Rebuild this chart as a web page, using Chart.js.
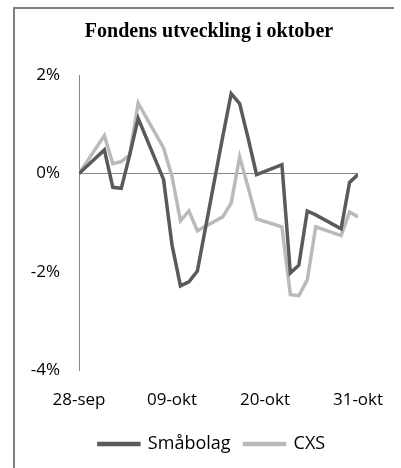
<!DOCTYPE html>
<html>
<head>
<meta charset="utf-8">
<script src="https://cdn.jsdelivr.net/npm/chart.js@4"></script>
<style>
    body { margin: 0; background: #fff; }
    #frame { position: absolute; left: 13px; top: 7px; width: 379px; height: 470px;
             border-left: 2px solid #808080; border-top: 2px solid #808080; }
    #wrap { position: absolute; left: 0; top: 0; width: 401px; height: 468px; }
</style>
</head>
<body>
<div id="frame"></div>
<div id="wrap"><canvas id="fundChart" width="401" height="468"></canvas></div>
<script>
// days after 28-sep (trading days only)
const days = [0, 3, 4, 5, 6, 7, 10, 11, 12, 13, 14, 17, 18, 19, 20, 21, 24, 25, 26, 27, 28, 31, 32, 33];
const smabolag = [0, 0.48, -0.28, -0.30, 0.38, 1.12, -0.12, -1.45, -2.28, -2.20, -1.98, 0.75, 1.62, 1.42, 0.72, -0.02, 0.18, -2.02, -1.86, -0.76, -0.84, -1.12, -0.18, -0.02];
const cxs = [0, 0.77, 0.20, 0.24, 0.38, 1.43, 0.52, -0.06, -0.96, -0.76, -1.16, -0.88, -0.60, 0.34, -0.28, -0.92, -1.08, -2.46, -2.48, -2.16, -1.08, -1.26, -0.78, -0.88];
const tickLabels = ["28-sep", "09-okt", "20-okt", "31-okt"];

const tickFont = { family: "'Open Sans', sans-serif", size: 17 };
const legendFont = { family: "'Open Sans', sans-serif", size: 18 };

function toPoints(values) {
    return days.map((d, i) => ({ x: d, y: values[i] }));
}

// title and legend sit a bit right of the plot centre in the original
const shiftBlocks = {
    id: "shiftBlocks",
    afterLayout(chart) {
        chart.titleBlock.left += 23;
        chart.titleBlock.right += 23;
        chart.legend.left += 26;
        chart.legend.right += 26;
    }
};

new Chart(document.getElementById("fundChart"), {
    type: "line",
    data: {
        datasets: [{
            label: "Småbolag",
            data: toPoints(smabolag),
            borderColor: "#5a5a5a",
            backgroundColor: "#5a5a5a",
            borderWidth: 3.5
        }, {
            label: "CXS",
            data: toPoints(cxs),
            borderColor: "#bababa",
            backgroundColor: "#bababa",
            borderWidth: 3.5
        }]
    },
    options: {
        responsive: false,
        animation: false,
        layout: { padding: { left: 14, right: 43, top: 10, bottom: 5 } },
        elements: { point: { radius: 0 }, line: { tension: 0 } },
        plugins: {
            title: {
                display: true,
                text: "Fondens utveckling i oktober",
                color: "#000",
                font: { family: "'Liberation Serif', 'Times New Roman', serif", size: 20, weight: "bold" },
                padding: { top: 10, bottom: 31 }
            },
            legend: {
                position: "bottom",
                labels: {
                    color: "#000",
                    font: legendFont,
                    boxWidth: 40,
                    boxHeight: 1,
                    padding: 14
                }
            },
            tooltip: { enabled: false }
        },
        scales: {
            x: {
                type: "linear",
                min: 0,
                max: 33,
                grid: { display: false },
                border: { display: false },
                ticks: {
                    stepSize: 11,
                    color: "#000",
                    font: tickFont,
                    padding: 11,
                    callback: v => tickLabels[v / 11]
                }
            },
            y: {
                min: -4,
                max: 2,
                grid: {
                    drawTicks: false,
                    color: ctx => ctx.tick && ctx.tick.value === 0 ? "#868686" : "rgba(0,0,0,0)"
                },
                border: { display: true, color: "#868686" },
                ticks: {
                    stepSize: 2,
                    color: "#000",
                    font: tickFont,
                    padding: 19,
                    callback: v => v + "%"
                },
                afterFit: scale => { scale.width = 65; }
            }
        }
    },
    plugins: [shiftBlocks]
});
</script>
</body>
</html>
